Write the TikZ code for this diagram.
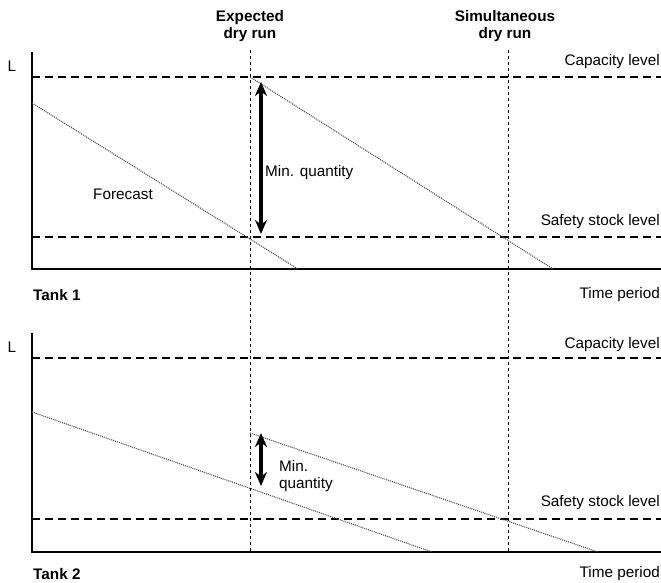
\documentclass[tikz,border=0pt]{standalone}
\usepackage{fontspec}
\setmainfont{Liberation Sans}
\usetikzlibrary{arrows.meta}
\begin{document}
\begin{tikzpicture}[x=1pt,y=-1pt,
  axis/.style={line width=2.7pt},
  level/.style={line width=2.2pt,dash pattern=on 8pt off 5pt},
  marker/.style={line width=1pt,dash pattern=on 3pt off 3pt},
  forecast/.style={line width=1.1pt,black!70,dash pattern=on 1pt off 1pt},
  qty/.style={line width=3.2pt,{Stealth[length=14pt,width=12pt]}-{Stealth[length=14pt,width=12pt]}},
  lbl/.style={inner sep=0pt,font=\fontsize{15.3}{17.5}\selectfont},
  head/.style={lbl,font=\fontsize{15.3}{17.5}\selectfont\bfseries,align=center}]
\useasboundingbox (0,0) rectangle (661,583);

% ---------- Tank 1 ----------
\coordinate (t1top) at (32,52);
\coordinate (t1o) at (32,269);
\coordinate (t1end) at (661,269);
\coordinate (t1capL) at (32,77);
\coordinate (t1capR) at (661,77);
\coordinate (t1safL) at (32,237);
\coordinate (t1safR) at (661,237);
\draw[axis] (t1top) -- (t1o) -- (t1end);
\draw[level] (t1capL) -- (t1capR);
\draw[level] (t1safL) -- (t1safR);

\coordinate (f1a) at (32,103);
\coordinate (f1b) at (298,269);
\coordinate (f2a) at (250,77);
\coordinate (f2b) at (553,269);
\draw[forecast] (f1a) -- (f1b);
\draw[forecast] (f2a) -- (f2b);

\coordinate (q1a) at (261,82);
\coordinate (q1b) at (261,234);
\draw[qty] (q1a) -- (q1b);

\node[lbl] (L1) at (12,66) {L};
\node[lbl,anchor=east] (cap1) at (660,62) {Capacity level};
\node[lbl,anchor=east] (saf1) at (660,222) {Safety stock level};
\node[lbl] (fc1) at (123,194) {Forecast};
\node[lbl,anchor=west] (mq1) at (265,173) {Min. quantity};
\node[lbl,anchor=west,font=\fontsize{15.3}{17.5}\selectfont\bfseries] (tank1) at (33,295) {Tank 1};
\node[lbl,anchor=east] (tp1) at (660,295) {Time period};

% ---------- Tank 2 ----------
\coordinate (t2top) at (32,333);
\coordinate (t2o) at (32,552);
\coordinate (t2end) at (661,552);
\coordinate (t2capL) at (32,358);
\coordinate (t2capR) at (661,358);
\coordinate (t2safL) at (32,519);
\coordinate (t2safR) at (661,519);
\draw[axis] (t2top) -- (t2o) -- (t2end);
\draw[level] (t2capL) -- (t2capR);
\draw[level] (t2safL) -- (t2safR);

\coordinate (g1a) at (32,412);
\coordinate (g1b) at (432,552);
\coordinate (g2a) at (250,433);
\coordinate (g2b) at (598,552);
\draw[forecast] (g1a) -- (g1b);
\draw[forecast] (g2a) -- (g2b);

\coordinate (q2a) at (261,433);
\coordinate (q2b) at (261,486);
\draw[qty] (q2a) -- (q2b);

\node[lbl] (L2) at (12,347) {L};
\node[lbl,anchor=east] (cap2) at (660,345) {Capacity level};
\node[lbl,anchor=east] (saf2) at (660,503) {Safety stock level};
\node[lbl,anchor=west,align=left] (mq2) at (279,476) {Min.\\quantity};
\node[lbl,anchor=west,font=\fontsize{15.3}{17.5}\selectfont\bfseries] (tank2) at (33,574) {Tank 2};
\node[lbl,anchor=east] (tp2) at (660,574) {Time period};

% ---------- dry-run markers spanning both tanks ----------
\node[head] (exp) at (250,26) {Expected\\dry run};
\node[head] (sim) at (505,26) {Simultaneous\\dry run};
\coordinate (expT) at (250,50);
\coordinate (expB) at (250,552);
\coordinate (simT) at (508,50);
\coordinate (simB) at (508,552);
\draw[marker] (expT) -- (expB);
\draw[marker] (simT) -- (simB);
\end{tikzpicture}
\end{document}
